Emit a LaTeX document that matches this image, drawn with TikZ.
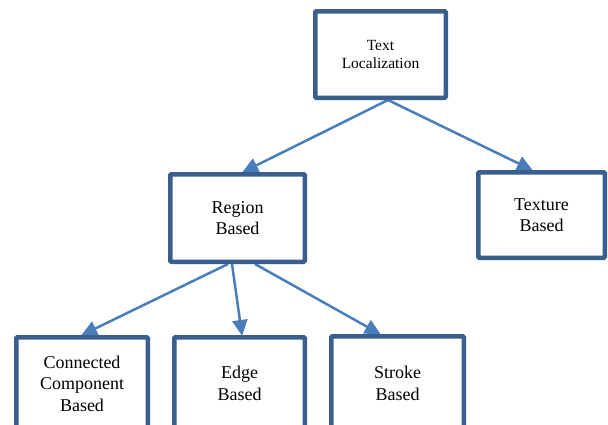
\documentclass[tikz,border=0pt]{standalone}
\usepackage{fontspec}
\setmainfont{Liberation Serif}
\usetikzlibrary{arrows.meta,calc,backgrounds}
\definecolor{boxblue}{HTML}{3A5F8E}
\definecolor{arrowblue}{HTML}{4A7EBB}
\tikzset{
  box/.style={draw=boxblue, line width=4.5pt, fill=white, rounded corners=1pt,
    align=center, inner sep=0pt, font=\fontsize{18}{21.5}\selectfont},
  conn/.style={draw=arrowblue, line width=2.5pt,
    -{Triangle[length=16pt,width=15pt]}, shorten >=-1pt}
}
\begin{document}
\begin{tikzpicture}[x=1pt,y=-1pt]
\useasboundingbox (0,0) rectangle (608,424);
\clip (0,0) rectangle (608,424);
\node[box, minimum width=130.5pt, minimum height=86.5pt,
  font=\fontsize{15.5}{18}\selectfont] (tl) at (380.5,54.5) {Text\\Localization};
\node[box, minimum width=134.5pt, minimum height=87.5pt] (region) at (237.5,218) {Region\\Based};
\node[box, minimum width=126.5pt, minimum height=85.5pt] (texture) at (541.5,215) {Texture\\Based};
\node[box, minimum width=131.5pt, minimum height=92.5pt] (cc) at (82,383.5) {Connected\\Component\\Based};
\node[box, minimum width=130.5pt, minimum height=92.5pt] (edge) at (239.5,383.5) {Edge\\Based};
\node[box, minimum width=132.5pt, minimum height=94.5pt] (stroke) at (397.5,383.5) {Stroke\\Based};
\begin{pgfonlayer}{background}
\draw[conn] ($(tl.south)+(7.5,0)$) -- ($(region.north)+(5.5,0)$);
\draw[conn] ($(tl.south)+(7.5,0)$) -- ($(texture.north)+(-9.5,0)$);
\draw[conn] ($(region.south)+(-9.5,0)$) -- (cc.north);
\draw[conn] ($(region.south)+(-5.5,0)$) -- ($(edge.north)+(2.5,0)$);
\draw[conn] ($(region.south)+(17.5,0)$) -- ($(stroke.north)+(-17.5,0)$);
\end{pgfonlayer}
\end{tikzpicture}
\end{document}
